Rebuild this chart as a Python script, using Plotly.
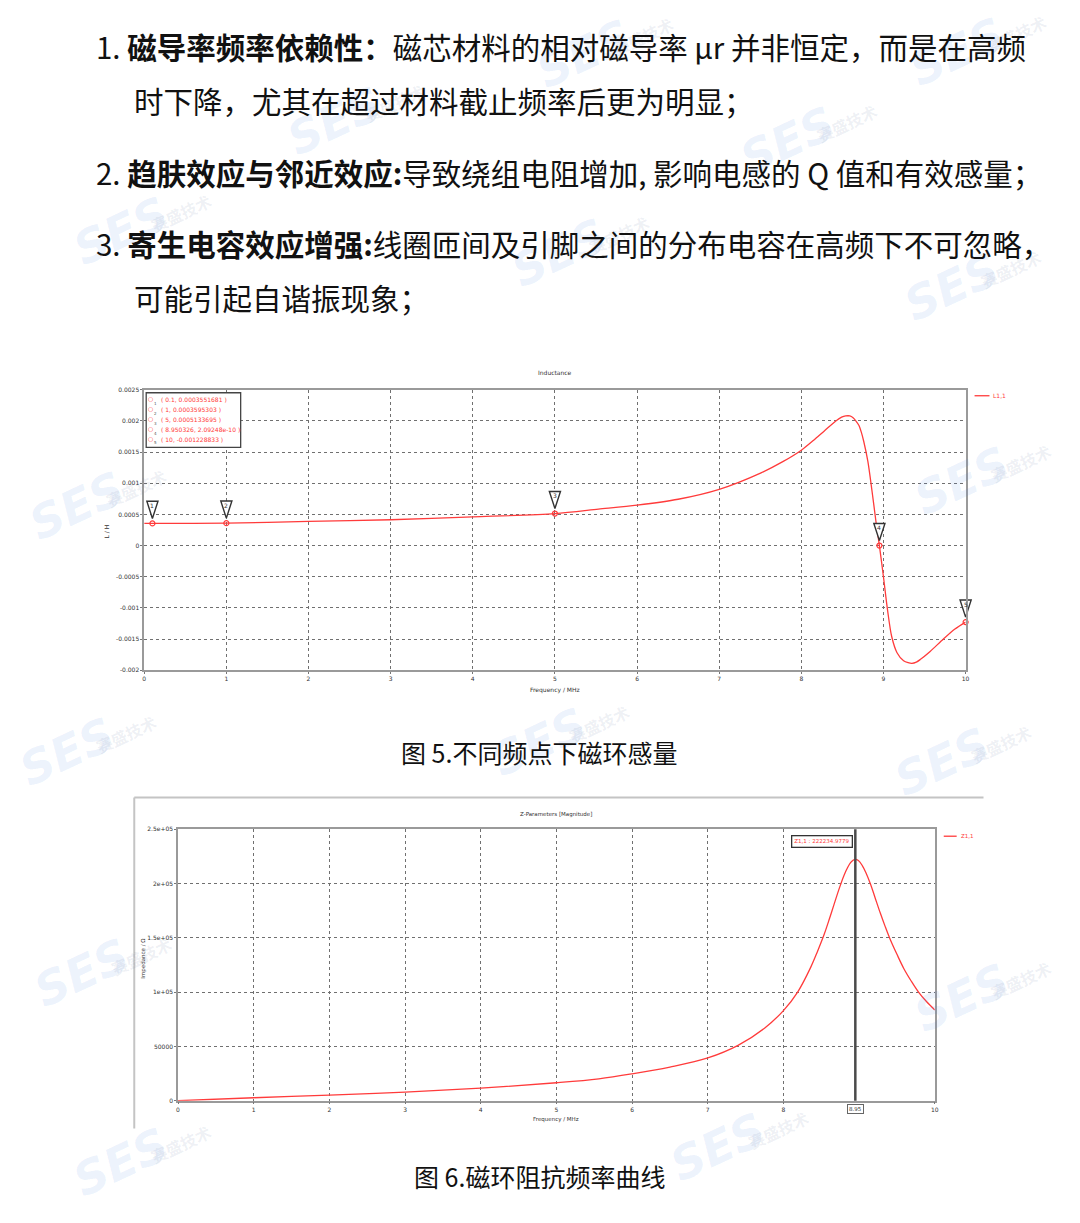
import plotly.graph_objects as go

W, H = 1080, 1223

# ---------------- data: chart 1 (Inductance) ----------------
freq_L = [0, 0.1, 1, 2, 3, 4, 5, 5.53, 6, 6.5, 7, 7.51, 7.78, 8, 8.15, 8.28, 8.42, 8.49, 8.54,
          8.59, 8.63, 8.67, 8.70, 8.73, 8.76, 8.81, 8.86, 8.91, 8.950326, 9.0, 9.05, 9.10, 9.165,
          9.245, 9.30, 9.346, 9.40, 9.447, 9.568, 9.73, 9.87, 10]
L_vals = [0.000355, 0.0003551681, 0.0003595303, 0.000387, 0.000414, 0.00046,
          0.0005133695, 0.000584, 0.000648, 0.000743, 0.000902, 0.001167, 0.00135,
          0.00153, 0.00169, 0.00184, 0.0020, 0.00206, 0.00208, 0.00208, 0.00205, 0.00199,
          0.00193, 0.00182, 0.00167, 0.00135, 0.00088, 0.00037, 2.09248e-10, -0.000505,
          -0.00104, -0.00146, -0.00172, -0.00185, -0.00188, -0.00189, -0.00187, -0.00183,
          -0.0017, -0.0015, -0.00134, -0.001228833]

mk_f = [0.1, 1, 5, 8.950326, 10]
mk_L = [0.0003551681, 0.0003595303, 0.0005133695, 2.09248e-10, -0.001228833]
mk_id = ["1", "2", "3", "4", "5"]
mk_text = ["( 0.1, 0.0003551681 )", "( 1, 0.0003595303 )", "( 5, 0.0005133695 )",
           "( 8.950326, 2.09248e-10 )", "( 10, -0.001228833 )"]

L_ticks = [0.0025, 0.002, 0.0015, 0.001, 0.0005, 0, -0.0005, -0.001, -0.0015, -0.002]
L_ticktext = ["0.0025", "0.002", "0.0015", "0.001", "0.0005", "0", "-0.0005", "-0.001", "-0.0015", "-0.002"]
f_ticks = [0, 1, 2, 3, 4, 5, 6, 7, 8, 9, 10]
f_ticks2 = [0, 1, 2, 3, 4, 5, 6, 7, 8, 10]

# ---------------- data: chart 2 (Impedance) ----------------
freq_Z = [0, 1, 2, 3, 4, 5, 5.56, 6, 6.5, 7, 7.4, 7.75, 8, 8.19, 8.36, 8.45, 8.54, 8.61,
          8.67, 8.74, 8.80, 8.85, 8.887, 8.92, 8.95, 8.99, 9.04, 9.09, 9.15, 9.21, 9.28,
          9.345, 9.41, 9.5, 9.59, 9.69, 9.785, 9.89, 10]
Z_vals = [0, 2700, 5200, 7900, 11600, 16500, 20100, 24700, 31000, 39400, 51000,
          66800, 83000, 100300, 122800, 137500, 153500, 168000, 181000, 196000, 207500,
          215000, 219200, 221500, 222234.9779, 221200, 216800, 210000, 199600, 187200,
          172800, 160300, 148700, 134800, 121800, 110000, 100000, 91300, 83600]
peak_f = 8.95
peak_label = "Z1,1 : 222234.9779"
Z_ticks = [0, 50000, 100000, 150000, 200000, 250000]
Z_ticktext = ["0", "50000", "1e+05", "1.5e+05", "2e+05", "2.5e+05"]

# ---------------- text ----------------
para_lines = [
    (93, 42, "1. <b>磁导率频率依赖性：</b>磁芯材料的相对磁导率 μr 并非恒定，而是在高频"),
    (131, 97, "时下降，尤其在超过材料截止频率后更为明显；"),
    (93, 169, "2. <b>趋肤效应与邻近效应:</b>导致绕组电阻增加, 影响电感的 Q 值和有效感量；"),
    (93, 240, "3. <b>寄生电容效应增强:</b>线圈匝间及引脚之间的分布电容在高频下不可忽略，"),
    (131, 295, "可能引起自谐振现象；"),
]
caption1 = "图 5.不同频点下磁环感量"
caption2 = "图 6.磁环阻抗频率曲线"

watermarks = [(120, 228), (335, 118), (790, 138), (560, 250), (955, 285), (75, 505),
              (965, 480), (65, 752), (540, 742), (945, 762), (80, 975), (965, 1000),
              (120, 1165), (720, 1150), (585, 50), (960, 48)]


def px(x):
    return x / W


def py(y):
    return 1 - y / H


def ann(**kw):
    d = dict(xref="paper", yref="paper", showarrow=False, xanchor="center", yanchor="middle")
    d.update(kw)
    return d


RED = "#ff3b3b"
SMALL = dict(family="DejaVu Sans", size=6, color="#333333")

fig = go.Figure()

# watermarks first (drawn below other annotations)
annotations = []
for (wx, wy) in watermarks:
    annotations.append(ann(x=px(wx), y=py(wy), text="<b><i>SES</i></b>", textangle=-25,
                           font=dict(family="DejaVu Sans", size=46, color="rgba(70,130,230,0.10)")))
    annotations.append(ann(x=px(wx + 60), y=py(wy - 18), text="<b>赛盛技术</b>", textangle=-25,
                           font=dict(family="Noto Sans CJK SC", size=16, color="rgba(90,110,150,0.10)")))

# chart 1 traces
fig.add_trace(go.Scatter(x=freq_L, y=L_vals, mode="lines", xaxis="x", yaxis="y",
                         line=dict(color=RED, width=1.3, shape="spline", smoothing=0.8),
                         showlegend=False, hoverinfo="skip"))
fig.add_trace(go.Scatter(x=mk_f, y=mk_L, mode="markers", xaxis="x", yaxis="y", cliponaxis=False,
                         marker=dict(symbol="circle-open", size=5, color=RED, line=dict(width=1.2)),
                         showlegend=False, hoverinfo="skip"))
fig.add_trace(go.Scatter(x=mk_f, y=mk_L, mode="markers", xaxis="x", yaxis="y", cliponaxis=False,
                         marker=dict(symbol="arrow", angle=180, standoff=5, size=18, color="white",
                                     line=dict(color="#333333", width=1.4)),
                         showlegend=False, hoverinfo="skip"))
for f, l, i in zip(mk_f, mk_L, mk_id):
    annotations.append(ann(x=f, y=l, xref="x", yref="y", text=i, yshift=18,
                           font=dict(family="DejaVu Sans", size=6, color="#333333")))

# chart 2 traces
fig.add_trace(go.Scatter(x=freq_Z, y=Z_vals, mode="lines", xaxis="x2", yaxis="y2",
                         line=dict(color=RED, width=1.3, shape="spline", smoothing=1.0),
                         showlegend=False, hoverinfo="skip"))

axis_common = dict(showgrid=True, gridcolor="#707070", griddash="dot", gridwidth=0.8,
                   zeroline=False, showline=True, linecolor="#9a9a9a", linewidth=1.5, mirror=True,
                   ticks="outside", ticklen=2, tickcolor="#777777", tickfont=SMALL)

fig.update_layout(
    width=W, height=H, margin=dict(l=0, r=0, t=0, b=0),
    paper_bgcolor="white", plot_bgcolor="white",
    xaxis=dict(domain=[px(143), px(969)], range=[0, 10], tickvals=f_ticks, anchor="y", **axis_common),
    yaxis=dict(domain=[py(670), py(388)], range=[-0.002, 0.0025], tickvals=L_ticks,
               ticktext=L_ticktext, anchor="x", **axis_common),
    xaxis2=dict(domain=[px(177), px(938)], range=[0, 10], tickvals=f_ticks2,
                anchor="y2", **axis_common),
    yaxis2=dict(domain=[py(1103), py(830)], range=[0, 250000], tickvals=Z_ticks,
                ticktext=Z_ticktext, anchor="x2", **axis_common),
)

shapes = []
# chart 2 screenshot frame
shapes.append(dict(type="line", xref="paper", yref="paper", x0=px(133), x1=px(987), y0=py(798), y1=py(798),
                   line=dict(color="#c4c4c4", width=2)))
shapes.append(dict(type="line", xref="paper", yref="paper", x0=px(133), x1=px(133), y0=py(798), y1=py(1131),
                   line=dict(color="#c4c4c4", width=2)))
# marker info box chart 1
shapes.append(dict(type="rect", xref="paper", yref="paper", x0=px(145), x1=px(240), y0=py(391), y1=py(446),
                   line=dict(color="#444444", width=1.3), fillcolor="white"))
# legends
shapes.append(dict(type="line", xref="paper", yref="paper", x0=px(978), x1=px(993), y0=py(394), y1=py(394),
                   line=dict(color=RED, width=1.3)))
shapes.append(dict(type="line", xref="paper", yref="paper", x0=px(947), x1=px(960), y0=py(837), y1=py(837),
                   line=dict(color=RED, width=1.3)))
# peak marker line chart 2
shapes.append(dict(type="line", xref="x2", yref="y2 domain", x0=peak_f, x1=peak_f, y0=0, y1=1,
                   line=dict(color="#4a4a4a", width=2.5)))

for k, t in enumerate(mk_text):
    yy = 398 + 10 * k
    annotations.append(ann(x=px(158), y=py(yy), xanchor="left", text=t,
                           font=dict(family="DejaVu Sans", size=6, color=RED)))
    annotations.append(ann(x=px(149.5), y=py(yy - 1), text="○",
                           font=dict(family="DejaVu Sans", size=6, color=RED)))
    annotations.append(ann(x=px(154), y=py(yy + 3.5), text=mk_id[k],
                           font=dict(family="DejaVu Sans", size=4, color="#555555")))

# chart texts
annotations += [
    ann(x=px(556), y=py(371), text="Inductance",
        font=dict(family="DejaVu Sans", size=6, color="#333333")),
    ann(x=px(556), y=py(690), text="Frequency / MHz",
        font=dict(family="DejaVu Sans", size=6, color="#333333")),
    ann(x=px(106), y=py(530), text="L / H", textangle=-90,
        font=dict(family="DejaVu Sans", size=6, color="#333333")),
    ann(x=px(995), y=py(394), xanchor="left", text="L1,1",
        font=dict(family="DejaVu Sans", size=6, color=RED)),
    ann(x=px(557), y=py(815), text="Z-Parameters [Magnitude]",
        font=dict(family="DejaVu Sans", size=5.5, color="#333333")),
    ann(x=px(557), y=py(1122), text="Frequency / MHz",
        font=dict(family="DejaVu Sans", size=5.5, color="#333333")),
    ann(x=px(142), y=py(960), text="Impedance / Ω", textangle=-90,
        font=dict(family="DejaVu Sans", size=5.5, color="#333333")),
    ann(x=px(962), y=py(837), xanchor="left", text="Z1,1",
        font=dict(family="DejaVu Sans", size=5.5, color=RED)),
    ann(x=px(825), y=py(842), text=peak_label,
        bordercolor="#333333", borderwidth=1.3, borderpad=2, bgcolor="white",
        font=dict(family="DejaVu Sans", size=5.5, color=RED)),
    ann(x=peak_f, y=py(1111), xref="x2", text="8.95",
        bordercolor="#666666", borderwidth=1, borderpad=1, bgcolor="white",
        font=dict(family="DejaVu Sans", size=5.5, color="#333333")),
]

for (lx, ly, t) in para_lines:
    annotations.append(ann(x=px(lx), y=py(ly), xanchor="left", text=t,
                           font=dict(family="Noto Sans CJK SC", size=29.5, color="#111111")))

annotations.append(ann(x=px(540), y=py(752), text=caption1,
                       font=dict(family="Noto Sans CJK SC", size=25, color="#111111")))
annotations.append(ann(x=px(540), y=py(1179), text=caption2,
                       font=dict(family="Noto Sans CJK SC", size=25, color="#111111")))

fig.update_layout(annotations=annotations, shapes=shapes)

fig.write_html("out.html", config={"displayModeBar": False},
               post_script="document.body.style.margin='0';document.body.style.overflow='hidden';")
